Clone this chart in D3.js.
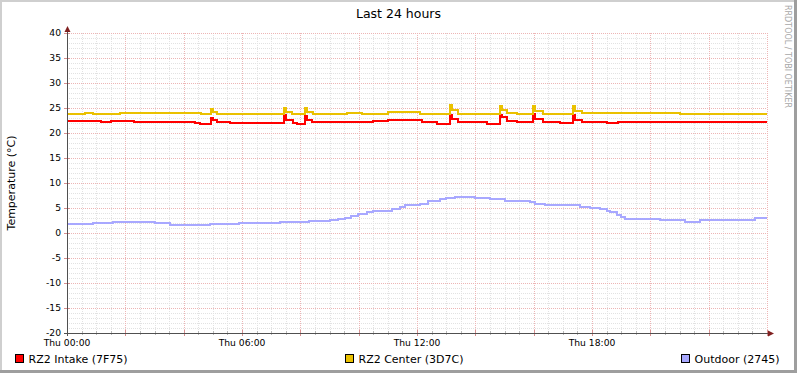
<!DOCTYPE html>
<html><head><meta charset="utf-8">
<script src="https://cdn.jsdelivr.net/npm/d3@7/dist/d3.min.js"></script>
<style>
html,body{margin:0;padding:0;background:#fff;}
svg{display:block;font-family:"DejaVu Sans",sans-serif;}
</style></head>
<body>
<svg id="chart" width="797" height="373"></svg>
<script>
// ---------- data ----------
const title = "Last 24 hours";
const yLabel = "Temperature (°C)";
const yTicks = [-20, -15, -10, -5, 0, 5, 10, 15, 20, 25, 30, 35, 40];
const xTickHours = [0, 6, 12, 18];
const xTickLabels = ["Thu 00:00", "Thu 06:00", "Thu 12:00", "Thu 18:00"];
const seriesNames = ["RZ2 Intake (7F75)", "RZ2 Center (3D7C)", "Outdoor (2745)"];
const seriesColors = ["#FF0000", "#EAC100", "#A8A8FF"];

const intakeHours = [0, 1.15, 1.5, 2.3, 4.4, 4.55, 4.95, 5.02, 5.15, 5.6, 7.45, 7.52, 7.75, 7.9, 8.15, 8.22, 8.4, 10.5, 11.0, 12.17, 12.69, 13.13, 13.2, 13.4, 14.4, 14.84, 14.9, 15.09, 15.43, 15.98, 16.05, 16.32, 16.9, 17.35, 17.42, 17.66, 18.5, 18.9, 24];
const intakeValues = [22.5, 22.2, 22.5, 22.3, 22.1, 21.9, 23.1, 22.6, 22.3, 22.1, 23.7, 22.6, 22.1, 21.9, 23.4, 22.7, 22.3, 22.4, 22.6, 22.3, 21.9, 23.7, 22.9, 22.3, 21.9, 23.6, 23.3, 22.4, 22.3, 23.8, 22.9, 22.3, 22.1, 23.6, 22.6, 22.3, 22.1, 22.3, 22.3];

const centerHours = [0, 0.6, 0.9, 1.8, 4.6, 4.95, 5.02, 5.15, 7.45, 7.52, 7.7, 8.15, 8.22, 8.45, 9.6, 10.1, 11.0, 12.1, 13.13, 13.2, 13.4, 14.84, 14.9, 15.09, 15.43, 15.98, 16.05, 16.32, 17.35, 17.42, 17.66, 19.0, 21.0, 24];
const centerValues = [23.9, 24.1, 23.9, 24.0, 23.8, 24.9, 24.2, 23.8, 25.1, 24.3, 23.8, 25.1, 24.2, 23.8, 24.1, 23.9, 24.3, 23.9, 25.6, 24.6, 23.9, 25.4, 24.6, 24.1, 23.8, 25.5, 24.4, 23.8, 25.4, 24.4, 24.1, 24.0, 23.9, 23.9];

const outdoorHours = [0, 0.89, 1.58, 3.0, 3.53, 4.9, 5.9, 7.3, 8.3, 9.0, 9.3, 9.53, 9.75, 9.98, 10.3, 10.49, 11.14, 11.4, 11.59, 12.1, 12.38, 12.79, 13.0, 13.3, 13.99, 14.5, 15.02, 15.87, 16.05, 16.39, 17.59, 17.93, 18.27, 18.5, 18.62, 18.86, 19.0, 19.13, 20.33, 21.19, 21.7, 23.59, 24];
const outdoorValues = [1.8, 2.1, 2.3, 2.1, 1.7, 1.9, 2.0, 2.3, 2.5, 2.6, 2.9, 3.1, 3.5, 3.8, 4.2, 4.5, 4.8, 5.2, 5.6, 5.8, 6.4, 6.9, 7.0, 7.2, 7.1, 6.8, 6.5, 6.3, 5.8, 5.6, 5.3, 5.1, 4.8, 4.5, 4.3, 3.7, 3.3, 2.9, 2.7, 2.3, 2.7, 3.0, 3.0];

// ---------- layout ----------
const W = 797, H = 373;
const plot = {left: 67, right: 767, top: 33, bottom: 333};
const svg = d3.select("#chart");

const x = d3.scaleLinear().domain([0, 24]).range([plot.left, plot.right]);
const y = d3.scaleLinear().domain([-20, 40]).range([plot.bottom, plot.top]);

// background + 3D frame
svg.append("rect").attr("width", W).attr("height", H).attr("fill", "#ffffff");
svg.append("rect").attr("x", 0).attr("y", 0).attr("width", W).attr("height", 2).attr("fill", "#CFCFCF");
svg.append("rect").attr("x", 0).attr("y", 0).attr("width", 2).attr("height", H).attr("fill", "#CFCFCF");
svg.append("rect").attr("x", W - 3).attr("y", 0).attr("width", 3).attr("height", H).attr("fill", "#9E9E9E");
svg.append("rect").attr("x", 0).attr("y", H - 3).attr("width", W).attr("height", 3).attr("fill", "#9E9E9E");

// ---------- grid ----------
const grid = svg.append("g").attr("shape-rendering", "crispEdges");
const minorColor = "#E2E2E2", majorColor = "#EDB5B5";
const yMinor = d3.range(-20, 41, 1).filter(v => v % 5 !== 0);
const xMinor = d3.range(0, 24.01, 0.5).filter(h => h % 2 !== 0);
const xMajor = d3.range(2, 24.01, 2);

grid.selectAll(".ymin").data(yMinor).join("line")
  .attr("x1", plot.left).attr("x2", plot.right)
  .attr("y1", d => Math.round(y(d)) + 0.5).attr("y2", d => Math.round(y(d)) + 0.5)
  .attr("stroke", minorColor).attr("stroke-dasharray", "1,1");
grid.selectAll(".xmin").data(xMinor).join("line")
  .attr("x1", d => Math.round(x(d)) + 0.5).attr("x2", d => Math.round(x(d)) + 0.5)
  .attr("y1", plot.top).attr("y2", plot.bottom)
  .attr("stroke", minorColor).attr("stroke-dasharray", "1,1");
grid.selectAll(".ymaj").data(yTicks.filter(v => v !== -20)).join("line")
  .attr("x1", plot.left).attr("x2", plot.right)
  .attr("y1", d => Math.round(y(d)) + 0.5).attr("y2", d => Math.round(y(d)) + 0.5)
  .attr("stroke", majorColor).attr("stroke-dasharray", "1,1");
grid.selectAll(".xmaj").data(xMajor).join("line")
  .attr("x1", d => Math.round(x(d)) + 0.5).attr("x2", d => Math.round(x(d)) + 0.5)
  .attr("y1", plot.top).attr("y2", plot.bottom)
  .attr("stroke", majorColor).attr("stroke-dasharray", "1,1");

// small ticks at axes
grid.selectAll(".xt").data(xMinor).join("line")
  .attr("x1", d => Math.round(x(d)) + 0.5).attr("x2", d => Math.round(x(d)) + 0.5)
  .attr("y1", plot.bottom - 2).attr("y2", plot.bottom + 2).attr("stroke", "#B8B8B8");
grid.selectAll(".xT").data(xMajor).join("line")
  .attr("x1", d => Math.round(x(d)) + 0.5).attr("x2", d => Math.round(x(d)) + 0.5)
  .attr("y1", plot.bottom - 3).attr("y2", plot.bottom + 3).attr("stroke", "#D89090");
grid.selectAll(".yT").data(yTicks).join("line")
  .attr("x1", plot.left - 3).attr("x2", plot.left + 3)
  .attr("y1", d => Math.round(y(d)) + 0.5).attr("y2", d => Math.round(y(d)) + 0.5)
  .attr("stroke", "#D89090");

// ---------- data lines ----------
const series = [
  {hours: intakeHours, values: intakeValues},
  {hours: centerHours, values: centerValues},
  {hours: outdoorHours, values: outdoorValues}
];
const line = d3.line().curve(d3.curveStepAfter).x(d => x(d[0])).y(d => y(d[1]));
series.forEach((s, i) => {
  const pts = s.hours.map((h, j) => [h, s.values[j]]);
  svg.append("path").attr("d", line(pts))
    .attr("fill", "none").attr("stroke", seriesColors[i])
    .attr("stroke-width", 2).attr("shape-rendering", "crispEdges");
});

// ---------- axes ----------
const axisColor = "#505050", arrowColor = "#802020";
const ax = svg.append("g").attr("shape-rendering", "crispEdges");
ax.append("line").attr("x1", plot.left + 0.5).attr("x2", plot.left + 0.5)
  .attr("y1", plot.bottom + 3).attr("y2", plot.top - 4).attr("stroke", axisColor);
ax.append("line").attr("x1", plot.left - 3).attr("x2", plot.right + 4)
  .attr("y1", plot.bottom + 0.5).attr("y2", plot.bottom + 0.5).attr("stroke", axisColor);
svg.append("path")
  .attr("d", `M${plot.left + 0.5},${plot.top - 7} L${plot.left + 3.5},${plot.top - 1} L${plot.left - 2.5},${plot.top - 1}Z`)
  .attr("fill", arrowColor);
svg.append("path")
  .attr("d", `M${plot.right + 7},${plot.bottom + 0.5} L${plot.right + 1},${plot.bottom + 3.5} L${plot.right + 1},${plot.bottom - 2.5}Z`)
  .attr("fill", arrowColor);

// y tick labels
svg.append("g").selectAll("text").data(yTicks).join("text")
  .attr("x", 61).attr("y", d => y(d) + 3.3)
  .attr("text-anchor", "end").attr("font-size", "9.2px").attr("fill", "#000")
  .text(d => d);

// x tick labels
svg.append("g").selectAll("text").data(xTickHours).join("text")
  .attr("x", d => x(d)).attr("y", 346)
  .attr("text-anchor", "middle").attr("font-size", "9.2px").attr("fill", "#000")
  .text((d, i) => xTickLabels[i]);

// title
svg.append("text").attr("x", 398.5).attr("y", 18).attr("text-anchor", "middle")
  .attr("font-size", "12.5px").attr("fill", "#000").text(title);

// y label
svg.append("text").attr("transform", `translate(15,${(plot.top + plot.bottom) / 2}) rotate(-90)`)
  .attr("text-anchor", "middle").attr("font-size", "11px").attr("fill", "#000").text(yLabel);

// watermark
svg.append("text").attr("transform", "translate(785,5) rotate(90)")
  .attr("font-size", "8px").attr("fill", "#A8A8A8").text("RRDTOOL / TOBI OETIKER");

// ---------- legend ----------
const legendX = [15, 345, 681];
const lg = svg.append("g");
seriesNames.forEach((name, i) => {
  lg.append("rect").attr("x", legendX[i] + 0.5).attr("y", 354.5).attr("width", 8).attr("height", 8)
    .attr("fill", seriesColors[i]).attr("stroke", "#000").attr("shape-rendering", "crispEdges");
  lg.append("text").attr("x", legendX[i] + 13.5).attr("y", 363)
    .attr("font-size", "11px").attr("fill", "#000").text(name);
});
</script>
</body></html>
